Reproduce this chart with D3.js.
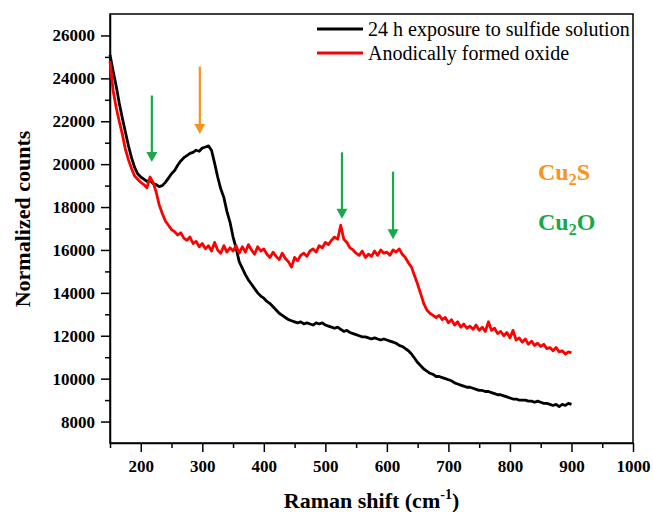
<!DOCTYPE html>
<html>
<head>
<meta charset="utf-8">
<script src="https://cdn.jsdelivr.net/npm/d3@7"></script>
<style>
  body { margin: 0; background: #fff; }
  text { font-family: 'Liberation Serif', 'Times New Roman', serif; }
</style>
</head>
<body>
<script>
// Raman shift sampling (cm-1), every 5 from 150 to 900
let shift = d3.range(150, 901, 5);

// 24 h exposure to sulfide solution
let sulfide = [
  25100, 24350, 23650, 22850, 22150, 21500, 20850, 20300, 19850, 19550,
  19400, 19300, 19200, 19250, 19100, 19050, 18950, 19000, 19150, 19350,
  19550, 19700, 19950, 20150, 20300, 20400, 20500, 20550, 20650, 20600,
  20750, 20800, 20850, 20650, 20050, 19400, 18850, 18450, 17800, 17300,
  16600, 16080, 15450, 15150, 14850, 14600, 14400, 14200, 14000, 13850,
  13750, 13600, 13500, 13350, 13200, 13050, 12950, 12850, 12750, 12700,
  12650, 12600, 12650, 12550, 12600, 12550, 12500, 12600, 12550, 12600,
  12500, 12450, 12400, 12350, 12400, 12300, 12200, 12250, 12150, 12100,
  12050, 12000, 11950, 11950, 11900, 11850, 11900, 11850, 11800, 11850,
  11800, 11750, 11700, 11650, 11550, 11500, 11400, 11300, 11150, 10950,
  10750, 10600, 10450, 10350, 10250, 10200, 10100, 10100, 10050, 10000,
  9950, 9900, 9800, 9750, 9700, 9650, 9600, 9600, 9550, 9500,
  9450, 9450, 9400, 9400, 9350, 9300, 9250, 9250, 9200, 9150,
  9100, 9050, 9050, 9000, 9000, 9000, 8950, 8950, 8900, 8950,
  8900, 8850, 8850, 8800, 8750, 8800, 8700, 8800, 8750, 8850,
  8800
];

// Anodically formed oxide
let oxide = [
  24800, 23450, 22650, 22000, 21400, 20700, 20200, 19800, 19450, 19300,
  19150, 19050, 18900, 19400, 19150, 18700, 18100, 17700, 17350, 17150,
  16950, 16850, 16700, 16800, 16550, 16450, 16600, 16300, 16400, 16150,
  16300, 16050, 16200, 15950, 16350, 16000, 15850, 16200, 15900, 16100,
  15950, 16200, 15850, 16150, 15900, 16250, 16000, 15800, 16150, 15950,
  16050, 15800, 15650, 15900, 15700, 15550, 15850, 15600, 15450, 15200,
  15650, 15500, 15750, 15850, 15700, 15950, 16050, 15900, 16200, 16100,
  16350, 16250, 16450, 16600, 16500, 17150, 16500, 16350, 16100, 16000,
  15850, 15750, 15950, 15650, 15800, 15700, 15950, 15750, 16000, 15850,
  15900, 15750, 16000, 15900, 16050, 15800, 15650, 15400, 15200, 14800,
  14400, 13950, 13500, 13200, 13050, 12950, 12850, 12950, 12750, 12850,
  12600, 12750, 12500, 12650, 12400, 12550, 12350, 12450, 12300, 12500,
  12250, 12400, 12200, 12650, 12250, 12350, 12100, 12200, 12000, 12150,
  11900, 12250, 11800, 11900, 11700, 11850, 11600, 11750, 11550, 11650,
  11500, 11600, 11400, 11450, 11300, 11450, 11250, 11300, 11150, 11250,
  11200
];

let seriesNames = ['24 h exposure to sulfide solution', 'Anodically formed oxide'];

// peak markers (arrows): position, arrow top, arrow tip, phase
let arrowShift = [218, 296, 527, 610];
let arrowTop = [23200, 24550, 20550, 19650];
let arrowTip = [20100, 21400, 17450, 16500];
let arrowPhase = ['Cu2O', 'Cu2S', 'Cu2O', 'Cu2O'];

let xTicks = [200, 300, 400, 500, 600, 700, 800, 900, 1000];
let yTicks = [8000, 10000, 12000, 14000, 16000, 18000, 20000, 22000, 24000, 26000];

let width = 653, height = 512;
let margin = { top: 14, bottom: 69, left: 110, right: 20 };

let phaseColor = { Cu2S: '#f7941d', Cu2O: '#19a94b' };
let lineColor = ['#000000', '#ff0000'];

let svg = d3.select('body')
  .append('svg')
  .attr('width', width)
  .attr('height', height);

let xScale = d3.scaleLinear()
  .domain([150, 1000])
  .range([margin.left, width - margin.right]);

let yScale = d3.scaleLinear()
  .domain([7000, 27000])
  .range([height - margin.bottom, margin.top]);

// minor ticks
let xMinor = d3.range(150, 1000, 100);
let yMinor = d3.range(9000, 27000, 2000);

svg.append('g')
  .attr('transform', `translate(0,${height - margin.bottom})`)
  .call(d3.axisBottom(xScale).tickValues(xMinor).tickSize(5).tickFormat(''))
  .call(g => g.select('.domain').remove())
  .selectAll('line').attr('stroke-width', 1.5);

svg.append('g')
  .attr('transform', `translate(${margin.left},0)`)
  .call(d3.axisLeft(yScale).tickValues(yMinor).tickSize(5).tickFormat(''))
  .call(g => g.select('.domain').remove())
  .selectAll('line').attr('stroke-width', 1.5);

// major axes
let xAxis = svg.append('g')
  .attr('transform', `translate(0,${height - margin.bottom})`)
  .call(d3.axisBottom(xScale).tickValues(xTicks).tickSize(9).tickPadding(8)
    .tickFormat(d3.format('d')).tickSizeOuter(0));

let yAxis = svg.append('g')
  .attr('transform', `translate(${margin.left},0)`)
  .call(d3.axisLeft(yScale).tickValues(yTicks).tickSize(9).tickPadding(6)
    .tickFormat(d3.format('d')).tickSizeOuter(0));

[xAxis, yAxis].forEach(a => {
  a.selectAll('line').attr('stroke-width', 1.5);
  a.select('.domain').attr('stroke-width', 1.5);
  a.selectAll('text')
    .style('font-family', "'Liberation Serif', serif")
    .style('font-size', '17px')
    .style('font-weight', 'bold')
    .attr('fill', '#000');
});

// plot frame
svg.append('rect')
  .attr('x', margin.left)
  .attr('y', margin.top)
  .attr('width', width - margin.right - margin.left)
  .attr('height', height - margin.bottom - margin.top)
  .attr('fill', 'none')
  .attr('stroke', '#000')
  .attr('stroke-width', 1.5);

// spectra
let line = d3.line()
  .x((d, i) => xScale(shift[i]))
  .y(d => yScale(d));

[sulfide, oxide].forEach((s, k) => {
  svg.append('path')
    .datum(s)
    .attr('d', line)
    .attr('fill', 'none')
    .attr('stroke', lineColor[k])
    .attr('stroke-width', 2.8)
    .attr('stroke-linejoin', 'round');
});

// arrows
arrowShift.forEach((x, i) => {
  let px = xScale(x), y0 = yScale(arrowTop[i]), y1 = yScale(arrowTip[i]);
  let c = phaseColor[arrowPhase[i]];
  svg.append('line')
    .attr('x1', px).attr('x2', px)
    .attr('y1', y0).attr('y2', y1 - 8)
    .attr('stroke', c)
    .attr('stroke-width', 2.2);
  svg.append('path')
    .attr('d', `M${px - 5.5},${y1 - 10} L${px + 5.5},${y1 - 10} L${px},${y1} Z`)
    .attr('fill', c);
});

// legend
let legend = svg.append('g');
seriesNames.forEach((name, i) => {
  let y = 29 + i * 24;
  legend.append('line')
    .attr('x1', 317).attr('x2', 363)
    .attr('y1', y).attr('y2', y)
    .attr('stroke', lineColor[i])
    .attr('stroke-width', 3);
  legend.append('text')
    .attr('x', 368)
    .attr('y', y + 7)
    .style('font-size', '20px')
    .text(name);
});

// phase labels
[['Cu2S', 180], ['Cu2O', 230]].forEach(([p, y]) => {
  let t = svg.append('text')
    .attr('x', 538)
    .attr('y', y)
    .attr('fill', phaseColor[p])
    .style('font-size', '24px')
    .style('font-weight', 'bold');
  t.append('tspan').text('Cu');
  t.append('tspan').attr('dy', 5).style('font-size', '16px').text('2');
  t.append('tspan').attr('dy', -5).text(p.slice(3));
});

// axis titles
let xt = svg.append('text')
  .attr('x', (margin.left + width - margin.right) / 2)
  .attr('y', 508)
  .attr('text-anchor', 'middle')
  .style('font-size', '22px')
  .style('font-weight', 'bold');
xt.append('tspan').text('Raman shift (cm');
xt.append('tspan').attr('dy', -9).style('font-size', '14px').text('-1');
xt.append('tspan').attr('dy', 9).text(')');

svg.append('text')
  .attr('transform', 'rotate(-90)')
  .attr('x', -219)
  .attr('y', 30)
  .attr('text-anchor', 'middle')
  .style('font-size', '22px')
  .style('font-weight', 'bold')
  .text('Normalized counts');
</script>
</body>
</html>
